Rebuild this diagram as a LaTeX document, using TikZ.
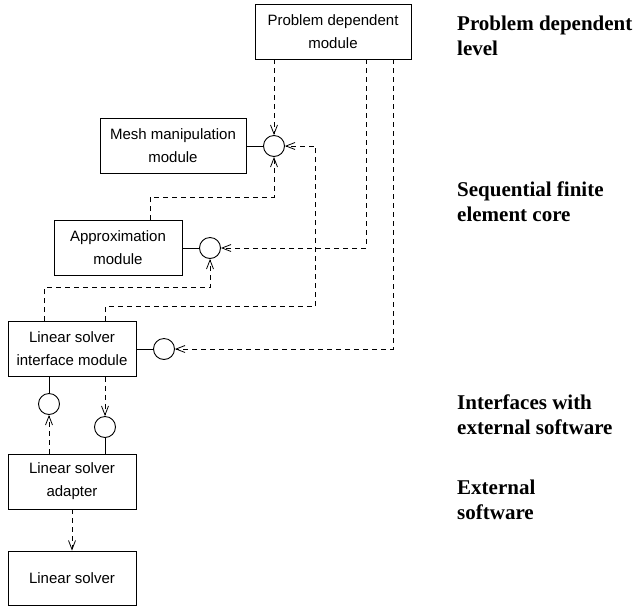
\documentclass[tikz,border=0pt]{standalone}
\usepackage{fontspec}
\setmainfont{Liberation Serif}
\setsansfont{Liberation Sans}
\usetikzlibrary{arrows.meta,calc}
\begin{document}
\begin{tikzpicture}[x=1pt,y=-1pt,
  box/.style={draw,line width=0.9pt,minimum width=128pt,minimum height=55pt,inner sep=0pt,align=center,font=\sffamily\fontsize{15}{23}\selectfont},
  ball/.style={draw,circle,line width=0.9pt,minimum size=21pt,inner sep=0pt},
  dep/.style={line width=0.8pt,dash pattern=on 5pt off 4pt,-{Straight Barb[length=9pt,width=7pt]}},
  sl/.style={line width=0.9pt},
  lvl/.style={anchor=north west,inner sep=0pt,align=left,font=\bfseries\fontsize{21}{25}\selectfont}]
\useasboundingbox (0,0) rectangle (637,606);
% modules
\node[box,minimum width=156pt] (pdm) at (333,31.5) {Problem dependent\\module};
\node[box,minimum width=146pt] (mm) at (173,146) {Mesh manipulation\\module};
\node[box] (ap) at (118,248) {Approximation\\module};
\node[box] (lsim) at (72,349) {Linear solver\\interface module};
\node[box] (lsa) at (72,481.5) {Linear solver\\adapter};
\node[box,minimum height=54pt] (ls) at (72,578) {Linear solver};
% interfaces
\node[ball] (c1) at (274,146) {};
\node[ball] (c2) at (210,248) {};
\node[ball] (c3) at (164,349) {};
\node[ball] (c4) at (49,404) {};
\node[ball] (c5) at (105,427) {};
% solid links
\draw[sl] (mm.east) -- (c1.west);
\draw[sl] (ap.east) -- (c2.west);
\draw[sl] (lsim.east) -- (c3.west);
\draw[sl] (lsim.south -| c4) -- (c4.north);
\draw[sl] (c5.south) -- (lsa.north -| c5);
% dependencies
\draw[dep] (pdm.south -| c1) -- (c1.north);
\draw[dep] ([xshift=-32pt]ap.north east) -- ++(0,-23) -| (c1.south);
\draw[dep] ([xshift=-31pt]lsim.north east) -- ++(0,-14.5) -- ++(210,0) |- (c1.east);
\draw[dep] ([xshift=-45pt]pdm.south east) |- (c2.east);
\draw[dep] ([xshift=37pt]lsim.north west) -- ++(0,-33.5) -| (c2.south);
\draw[dep] ([xshift=-18pt]pdm.south east) |- (c3.east);
\draw[dep] (lsim.south -| c5) -- (c5.north);
\draw[dep] (lsa.north -| c4) -- (c4.south);
\draw[dep] (lsa.south) -- (ls.north);
% levels
\node[lvl] (l1) at (457,16) {Problem dependent\\level};
\node[lvl] (l2) at (457,182) {Sequential finite\\element core};
\node[lvl] (l3) at (457,395) {Interfaces with\\external software};
\node[lvl] (l4) at (457,480) {External\\software};
\end{tikzpicture}
\end{document}
